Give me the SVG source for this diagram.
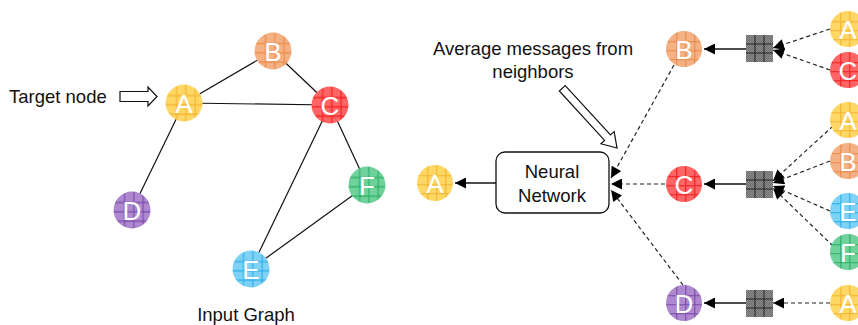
<svg xmlns="http://www.w3.org/2000/svg" width="858" height="325" viewBox="0 0 858 325">
<style>
.lbl{font-family:"Liberation Sans","Open Sans",sans-serif;font-size:18.5px;fill:#111}
.nl{font-family:"Liberation Sans","Open Sans",sans-serif;font-size:26px;fill:#fff;text-anchor:middle}
.edge{stroke:#111;stroke-width:1.2;fill:none}
.dash{stroke:#222;stroke-width:1.2;fill:none;stroke-dasharray:4 3}
.solid{stroke:#111;stroke-width:1.3;fill:none}
.hollow{fill:#fff;stroke:#111;stroke-width:1.2}
.sq{fill:url(#chk);stroke:none}
.sqg{stroke:#222;stroke-width:1}
</style>
<defs>
<marker id="ah" viewBox="0 0 10 10" refX="10" refY="5" markerWidth="12" markerHeight="11" markerUnits="userSpaceOnUse" orient="auto">
<path d="M0,0 L10,5 L0,10 z" fill="#000"/>
</marker>
<pattern id="chk" width="2" height="2" patternUnits="userSpaceOnUse">
<rect width="2" height="2" fill="#8c8c8c"/>
<rect width="1" height="1" fill="#6e6e6e"/>
<rect x="1" y="1" width="1" height="1" fill="#6e6e6e"/>
</pattern>
<pattern id="gA" width="1" height="1" patternUnits="objectBoundingBox" patternContentUnits="objectBoundingBox">
<rect width="1" height="1" fill="#FFD765"/>
<path d="M0.3,0V1M0.55,0V1M0.8,0V1M0,0.3H1M0,0.55H1M0,0.8H1" stroke="#F2B330" stroke-width="0.03"/>
</pattern>
<pattern id="gB" width="1" height="1" patternUnits="objectBoundingBox" patternContentUnits="objectBoundingBox">
<rect width="1" height="1" fill="#F4B184"/>
<path d="M0.3,0V1M0.55,0V1M0.8,0V1M0,0.3H1M0,0.55H1M0,0.8H1" stroke="#EA8A48" stroke-width="0.03"/>
</pattern>
<pattern id="gC" width="1" height="1" patternUnits="objectBoundingBox" patternContentUnits="objectBoundingBox">
<rect width="1" height="1" fill="#FF6565"/>
<path d="M0.3,0V1M0.55,0V1M0.8,0V1M0,0.3H1M0,0.55H1M0,0.8H1" stroke="#F01E1E" stroke-width="0.03"/>
</pattern>
<pattern id="gD" width="1" height="1" patternUnits="objectBoundingBox" patternContentUnits="objectBoundingBox">
<rect width="1" height="1" fill="#AE89CF"/>
<path d="M0.3,0V1M0.55,0V1M0.8,0V1M0,0.3H1M0,0.55H1M0,0.8H1" stroke="#7A48A8" stroke-width="0.03"/>
</pattern>
<pattern id="gE" width="1" height="1" patternUnits="objectBoundingBox" patternContentUnits="objectBoundingBox">
<rect width="1" height="1" fill="#7DD2F5"/>
<path d="M0.3,0V1M0.55,0V1M0.8,0V1M0,0.3H1M0,0.55H1M0,0.8H1" stroke="#2CAEE8" stroke-width="0.03"/>
</pattern>
<pattern id="gF" width="1" height="1" patternUnits="objectBoundingBox" patternContentUnits="objectBoundingBox">
<rect width="1" height="1" fill="#6ED29A"/>
<path d="M0.3,0V1M0.55,0V1M0.8,0V1M0,0.3H1M0,0.55H1M0,0.8H1" stroke="#2EAE66" stroke-width="0.03"/>
</pattern>
</defs>
<rect width="858" height="325" fill="#fff"/>

<g id="connectors">
<line class="edge" x1="184" y1="103" x2="273" y2="51"/>
<line class="edge" x1="273" y1="51" x2="330" y2="105"/>
<line class="edge" x1="184" y1="103" x2="330" y2="105"/>
<line class="edge" x1="184" y1="103" x2="132" y2="210"/>
<line class="edge" x1="330" y1="105" x2="251" y2="269"/>
<line class="edge" x1="330" y1="105" x2="367" y2="185"/>
<line class="edge" x1="251" y1="269" x2="367" y2="185"/>
<line class="solid" x1="496" y1="183" x2="455" y2="183" marker-end="url(#ah)"/>
<line class="dash" x1="674" y1="65" x2="611" y2="178" marker-end="url(#ah)"/>
<line class="dash" x1="665" y1="184" x2="611" y2="184" marker-end="url(#ah)"/>
<line class="dash" x1="683" y1="285" x2="611" y2="190" marker-end="url(#ah)"/>
<line class="solid" x1="746" y1="49" x2="704" y2="49" marker-end="url(#ah)"/>
<line class="solid" x1="746" y1="184" x2="704" y2="184" marker-end="url(#ah)"/>
<line class="solid" x1="746" y1="303" x2="704" y2="303" marker-end="url(#ah)"/>
<line class="dash" x1="830" y1="29" x2="773" y2="48" marker-end="url(#ah)"/>
<line class="dash" x1="830" y1="70" x2="773" y2="50" marker-end="url(#ah)"/>
<line class="dash" x1="833" y1="126" x2="773" y2="181" marker-end="url(#ah)"/>
<line class="dash" x1="830" y1="161" x2="773" y2="183" marker-end="url(#ah)"/>
<line class="dash" x1="830" y1="211" x2="773" y2="186" marker-end="url(#ah)"/>
<line class="dash" x1="833" y1="246" x2="773" y2="188" marker-end="url(#ah)"/>
<line class="dash" x1="830" y1="303" x2="773" y2="303" marker-end="url(#ah)"/>
</g>

<g id="label-target">
<text class="lbl" x="9" y="103">Target node</text>
<polygon class="hollow" points="120,91.5 148,91.5 148,87 157,96.5 148,106 148,101.5 120,101.5"/>
</g>
<text class="lbl" x="246" y="321" text-anchor="middle">Input Graph</text>

<g id="g-A"><circle cx="184" cy="103" r="18.5" fill="url(#gA)"/><text class="nl" x="184" y="112.5">A</text></g>
<g id="g-B"><circle cx="273" cy="51" r="18.5" fill="url(#gB)"/><text class="nl" x="273" y="60.5">B</text></g>
<g id="g-C"><circle cx="330" cy="105" r="18.5" fill="url(#gC)"/><text class="nl" x="330" y="114.5">C</text></g>
<g id="g-D"><circle cx="132" cy="210" r="18.5" fill="url(#gD)"/><text class="nl" x="132" y="219.5">D</text></g>
<g id="g-E"><circle cx="251" cy="269" r="18.5" fill="url(#gE)"/><text class="nl" x="251" y="278.5">E</text></g>
<g id="g-F"><circle cx="367" cy="185" r="18.5" fill="url(#gF)"/><text class="nl" x="367" y="194.5">F</text></g>

<g id="label-average">
<text class="lbl" x="533" y="55" text-anchor="middle">Average messages from</text>
<text class="lbl" x="533" y="78" text-anchor="middle">neighbors</text>
<polygon class="hollow" transform="translate(617,148) rotate(47.5)" points="-81,-4 -14,-4 -14,-9 0,0 -14,9 -14,4 -81,4"/>
</g>

<g id="out-A"><circle cx="435" cy="183" r="18" fill="url(#gA)"/><text class="nl" x="435" y="192.5">A</text></g>

<g id="neural-network">
<rect x="496" y="152" width="113" height="61" rx="9" fill="#fff" stroke="#111" stroke-width="1.3"/>
<text class="lbl" x="552" y="178" text-anchor="middle">Neural</text>
<text class="lbl" x="552" y="202" text-anchor="middle">Network</text>
</g>

<g id="l1-B"><circle cx="684" cy="49" r="18" fill="url(#gB)"/><text class="nl" x="684" y="58.5">B</text></g>
<g id="l1-C"><circle cx="684" cy="184" r="18" fill="url(#gC)"/><text class="nl" x="684" y="193.5">C</text></g>
<g id="l1-D"><circle cx="684" cy="303" r="18" fill="url(#gD)"/><text class="nl" x="684" y="312.5">D</text></g>

<g id="agg-B"><rect class="sq" x="746" y="35" width="27" height="27"/><path class="sqg" d="M755,35V62M764,35V62M746,44H773M746,53H773"/></g>
<g id="agg-C"><rect class="sq" x="746" y="171" width="27" height="27"/><path class="sqg" d="M755,171V198M764,171V198M746,180H773M746,189H773"/></g>
<g id="agg-D"><rect class="sq" x="746" y="290" width="27" height="27"/><path class="sqg" d="M755,290V317M764,290V317M746,299H773M746,308H773"/></g>

<g id="l2-A1"><circle cx="848" cy="29" r="18" fill="url(#gA)"/><text class="nl" x="848" y="38.5">A</text></g>
<g id="l2-C1"><circle cx="848" cy="70" r="18" fill="url(#gC)"/><text class="nl" x="848" y="79.5">C</text></g>
<g id="l2-A2"><circle cx="848" cy="120" r="18" fill="url(#gA)"/><text class="nl" x="848" y="129.5">A</text></g>
<g id="l2-B2"><circle cx="848" cy="161" r="18" fill="url(#gB)"/><text class="nl" x="848" y="170.5">B</text></g>
<g id="l2-E2"><circle cx="848" cy="211" r="18" fill="url(#gE)"/><text class="nl" x="848" y="220.5">E</text></g>
<g id="l2-F2"><circle cx="848" cy="252" r="18" fill="url(#gF)"/><text class="nl" x="848" y="261.5">F</text></g>
<g id="l2-A3"><circle cx="848" cy="303" r="18" fill="url(#gA)"/><text class="nl" x="848" y="312.5">A</text></g>
</svg>
